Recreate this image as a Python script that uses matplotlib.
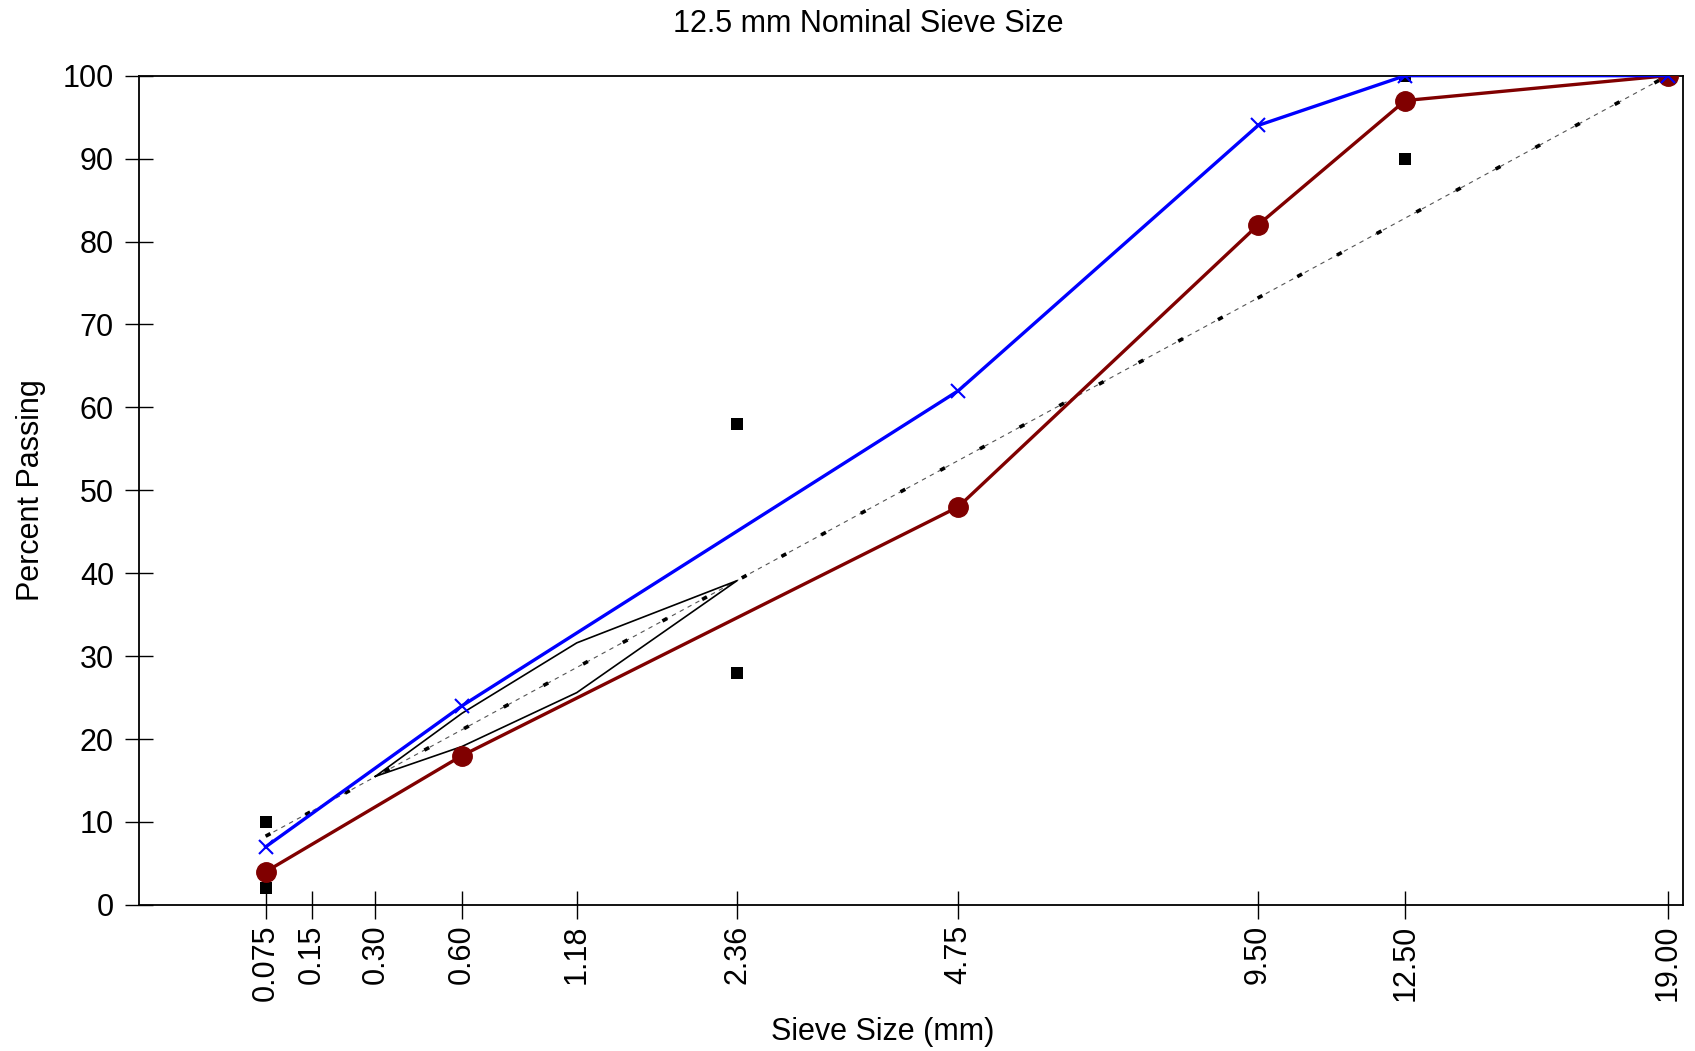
import numpy as np
import matplotlib
matplotlib.use('Agg')
import matplotlib.pyplot as plt

plt.rcParams['font.family'] = ['Liberation Sans', 'DejaVu Sans']

# sieve sizes on the 0.45 power axis
sieve_ticks = [0.075, 0.15, 0.30, 0.60, 1.18, 2.36, 4.75, 9.50, 12.50, 19.00]
tick_labels = ['0.075', '0.15', '0.30', '0.60', '1.18', '2.36', '4.75', '9.50', '12.50', '19.00']

# gradation curves
blue_sizes = [0.075, 0.60, 4.75, 9.50, 12.50, 19.00]
blue_pass = [7, 24, 62, 94, 100, 100]
red_sizes = [0.075, 0.60, 4.75, 9.50, 12.50, 19.00]
red_pass = [4, 18, 48, 82, 97, 100]

# control points
ctrl_sizes = [0.075, 0.075, 2.36, 2.36, 12.50, 12.50, 19.00]
ctrl_pass = [2, 10, 28, 58, 90, 100, 100]

# restricted zone
rz_sizes = [0.30, 0.60, 1.18, 2.36, 1.18, 0.60, 0.30]
rz_pass = [15.5, 23.1, 31.6, 39.1, 25.6, 19.1, 15.5]

# maximum density line end points
mdl_sizes = [0.075, 19.00]
nominal_max = 19.00

P = 0.45


def tx(s):
    return np.power(np.asarray(s, dtype=float), P)


fig = plt.figure(figsize=(16.95, 10.51), dpi=100)
ax = fig.add_axes([0.082, 0.139, 0.911, 0.789])

# maximum density line
mdl_x = tx(mdl_sizes)
mdl_y = 100 * mdl_x / tx(nominal_max)
ax.plot(mdl_x, mdl_y, color='#555555', lw=0.8, dashes=(4, 4), zorder=2)
ax.plot(mdl_x, mdl_y, color='black', lw=2.6, dashes=(1.5, 11), zorder=2)

# restricted zone
ax.plot(tx(rz_sizes), rz_pass, color='black', lw=1.2, zorder=3)

ax.plot(tx(blue_sizes), blue_pass, color='#0000ff', lw=2.4, marker='x',
        ms=10, mew=1.5, zorder=5)
ax.plot(tx(red_sizes), red_pass, color='#800000', lw=2.4, marker='o',
        ms=14, zorder=4)
ax.scatter(tx(ctrl_sizes), ctrl_pass, marker='s', s=75, color='black',
           zorder=3, linewidths=0)

ax.set_xlim(0, 3.80)
ax.set_ylim(0, 100)
ax.set_xticks(tx(sieve_ticks))
ax.set_xticklabels(tick_labels, rotation=90, fontsize=22)
ax.set_yticks(np.arange(0, 101, 10))
ax.tick_params(axis='y', labelsize=22, direction='inout', length=20, width=1, pad=8)
ax.tick_params(axis='x', direction='inout', length=20, width=1, pad=4)
for sp in ax.spines.values():
    sp.set_linewidth(1.3)

fig.text(0.512, 0.977, '12.5 mm Nominal Sieve Size', ha='center', va='center', fontsize=22)
fig.text(0.521, 0.018, 'Sieve Size (mm)', ha='center', va='center', fontsize=22)
fig.text(0.018, 0.534, 'Percent Passing', ha='center', va='center', fontsize=22,
         rotation=90)

fig.savefig('out.png', dpi=100, facecolor='white')
